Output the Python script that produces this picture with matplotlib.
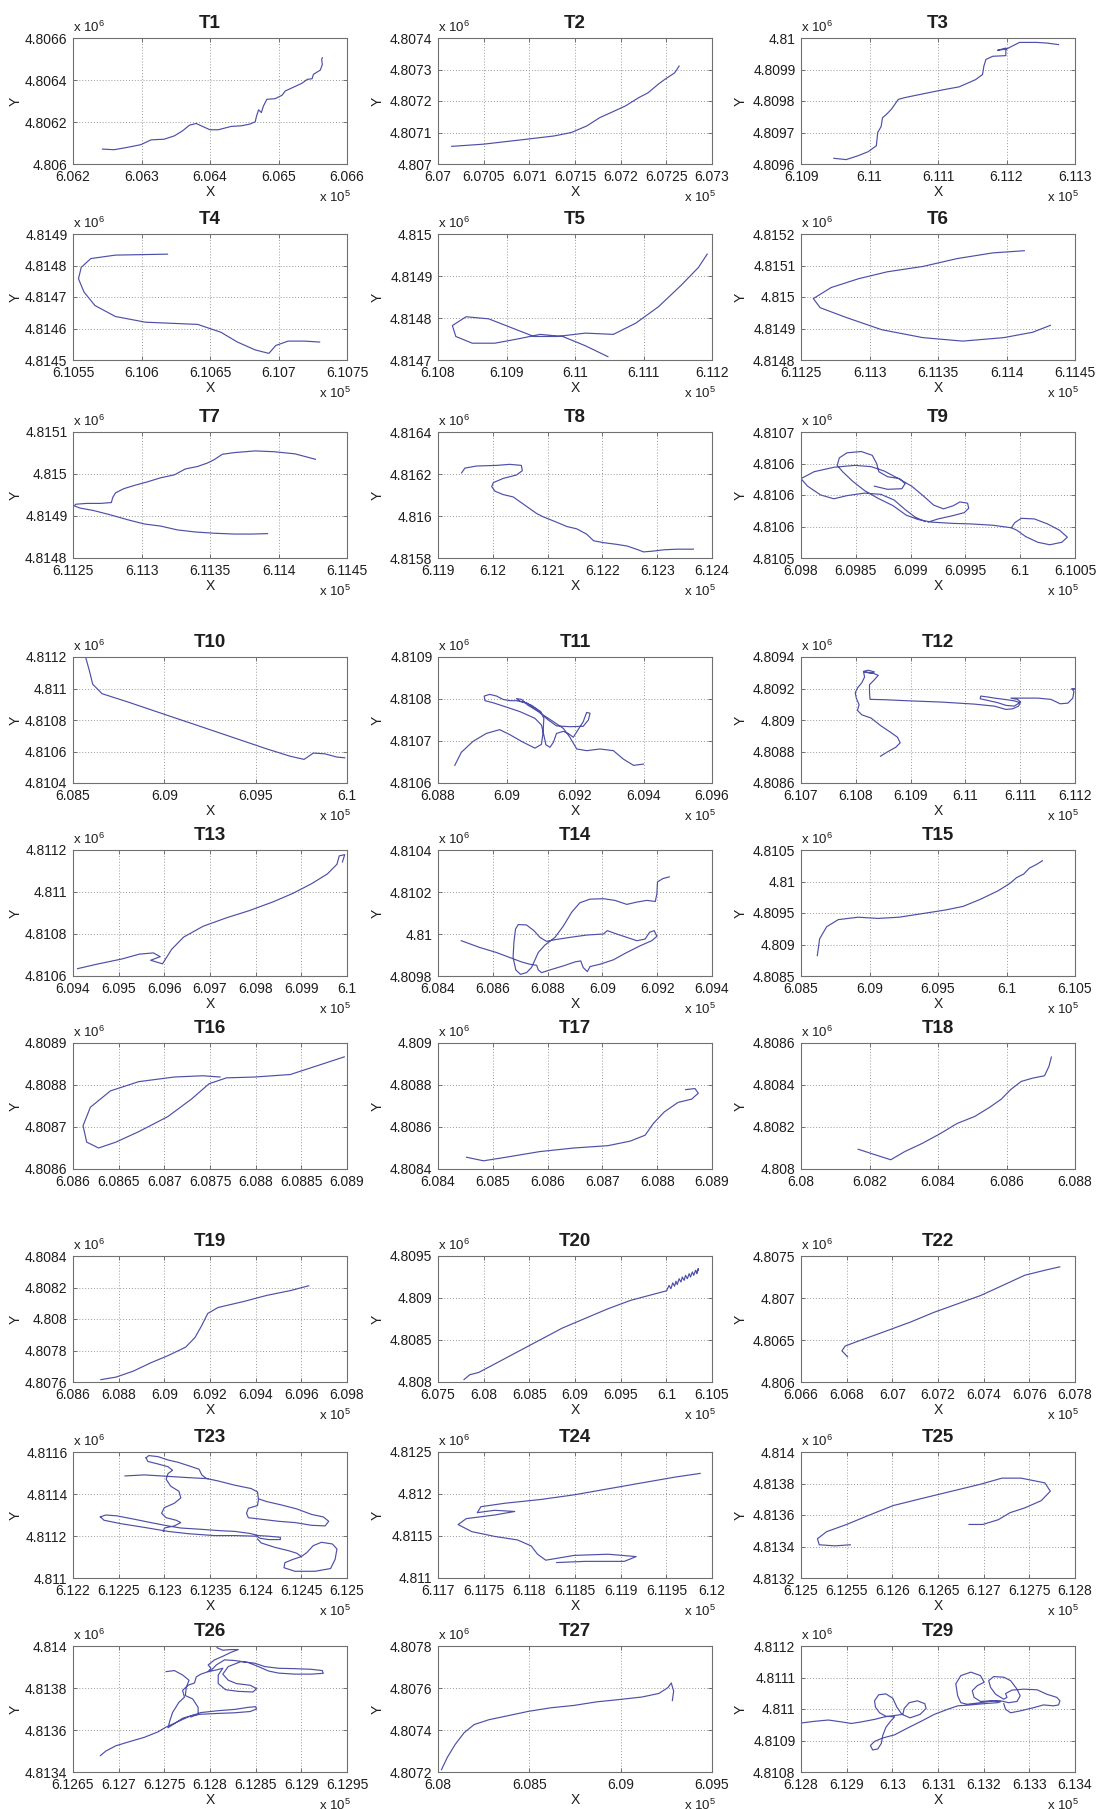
import numpy as np
import matplotlib.pyplot as plt
from matplotlib.patches import Rectangle

plt.rcParams['font.family'] = ['Liberation Sans', 'DejaVu Sans']
plt.rcParams['mathtext.default'] = 'regular'

# GPS tracks in UTM metres (easting, northing); (None, None) breaks a track
T1 = [(606243, 4806071), (606260, 4806068), (606279, 4806079), (606299, 4806092), (606314, 4806115),
      (606333, 4806118), (606348, 4806134), (606360, 4806158), (606370, 4806185), (606380, 4806193),
      (606387, 4806182), (606400, 4806163), (606412, 4806163), (606431, 4806179), (606446, 4806182),
      (606458, 4806190), (606466, 4806201), (606468, 4806229), (606471, 4806258), (606475, 4806245),
      (606478, 4806276), (606483, 4806308), (606495, 4806311), (606505, 4806327), (606510, 4806348),
      (606520, 4806363), (606534, 4806384), (606542, 4806403), (606549, 4806406), (606551, 4806427),
      (606561, 4806447), (606564, 4806474), (606563, 4806498), (606564, 4806506)]
T2 = [(607015, 4807056), (607050, 4807063), (607098, 4807079), (607127, 4807089), (607146, 4807100),
      (607163, 4807121), (607177, 4807147), (607193, 4807168), (607205, 4807184), (607220, 4807211),
      (607230, 4807226), (607241, 4807253), (607248, 4807268), (607259, 4807289), (607264, 4807311)]
T3 = [(610948, 4809618), (610966, 4809614), (610983, 4809626), (610998, 4809639), (611010, 4809658),
      (611011, 4809679), (611012, 4809700), (611017, 4809719), (611019, 4809747), (611025, 4809758),
      (611032, 4809774), (611042, 4809805), (611052, 4809811), (611081, 4809824), (611106, 4809835),
      (611131, 4809845), (611155, 4809868), (611165, 4809884), (611167, 4809911), (611170, 4809932),
      (611180, 4809942), (611199, 4809944), (611199, 4809968), (611187, 4809961), (611200, 4809965),
      (611219, 4809986), (611244, 4809986), (611259, 4809984), (611276, 4809979)]
T4 = [(610619, 4814836), (610581, 4814833), (610563, 4814822), (610556, 4814794), (610554, 4814758),
      (610558, 4814716), (610566, 4814673), (610581, 4814638), (610603, 4814620), (610641, 4814613),
      (610658, 4814588), (610670, 4814557), (610683, 4814532), (610693, 4814521), (610698, 4814546),
      (610707, 4814560), (610719, 4814560), (610730, 4814557)]
T5 = [(611048, 4814708), (611015, 4814734), (610982, 4814756), (610949, 4814761), (610916, 4814750),
      (610883, 4814740), (610850, 4814740), (610826, 4814756), (610821, 4814782), (610841, 4814803),
      (610874, 4814798), (610907, 4814777), (610940, 4814756), (610974, 4814756), (611015, 4814764),
      (611056, 4814761), (611089, 4814788), (611122, 4814827), (611155, 4814878), (611180, 4814920),
      (611193, 4814952)]
T6 = [(611413, 4815147), (611390, 4815140), (611364, 4815122), (611339, 4815097), (611313, 4815080),
      (611292, 4815058), (611272, 4815030), (611259, 4814995), (611264, 4814966), (611283, 4814935),
      (611309, 4814896), (611339, 4814871), (611368, 4814860), (611398, 4814871), (611419, 4814888),
      (611432, 4814910)]
T7 = [(611427, 4815035), (611412, 4815048), (611397, 4815053), (611383, 4815055), (611368, 4815051),
      (611359, 4815047), (611353, 4815034), (611348, 4815026), (611341, 4815018), (611332, 4815012),
      (611324, 4814998), (611314, 4814991), (611304, 4814981), (611295, 4814973), (611287, 4814965),
      (611281, 4814955), (611279, 4814944), (611278, 4814932), (611270, 4814930), (611260, 4814930),
      (611252, 4814928), (611251, 4814924), (611255, 4814919), (611265, 4814913), (611277, 4814903),
      (611290, 4814891), (611302, 4814881), (611314, 4814876), (611326, 4814867), (611339, 4814862),
      (611353, 4814859), (611368, 4814857), (611380, 4814857), (611392, 4814858)]
T8 = [(611943, 4816205), (611949, 4816228), (611970, 4816238), (612007, 4816241), (612031, 4816246),
      (612052, 4816241), (612054, 4816216), (612043, 4816195), (612019, 4816179), (612001, 4816159),
      (611998, 4816140), (612004, 4816118), (612019, 4816102), (612037, 4816091), (612049, 4816069),
      (612062, 4816045), (612080, 4816012), (612092, 4815996), (612116, 4815971), (612135, 4815950),
      (612153, 4815939), (612171, 4815914), (612184, 4815882), (612202, 4815873), (612226, 4815865),
      (612245, 4815857), (612263, 4815841), (612275, 4815829), (612293, 4815833), (612312, 4815839),
      (612336, 4815842), (612366, 4815842)]
T9 = [(609867, 4810614), (609879, 4810609), (609892, 4810610), (609895, 4810618), (609890, 4810626),
      (609879, 4810629), (609871, 4810637), (609869, 4810650), (609865, 4810663), (609855, 4810669),
      (609842, 4810667), (609835, 4810659), (609833, 4810647), (609838, 4810637), (609847, 4810622),
      (609858, 4810607), (609870, 4810595), (609884, 4810583), (609896, 4810568), (609907, 4810561),
      (609919, 4810557), (609938, 4810555), (609956, 4810554), (609975, 4810552), (609992, 4810548),
      (609995, 4810556), (610001, 4810563), (610013, 4810562), (610025, 4810554), (610036, 4810544),
      (610043, 4810533), (610038, 4810525), (610027, 4810521), (610016, 4810525), (610005, 4810534),
      (609997, 4810544), (609992, 4810548), (None, None),
      (609800, 4810626), (609812, 4810637), (609830, 4810644), (609849, 4810647), (609864, 4810645),
      (609876, 4810638), (609889, 4810626), (609901, 4810614), (609912, 4810598), (609921, 4810584),
      (609930, 4810578), (609939, 4810583), (609945, 4810589), (609952, 4810587), (609953, 4810579),
      (609949, 4810572), (609938, 4810567), (609925, 4810562), (609916, 4810557), (None, None),
      (609800, 4810626), (609806, 4810614), (609818, 4810600), (609830, 4810594), (609842, 4810599),
      (609858, 4810603), (609873, 4810601), (609885, 4810592), (609895, 4810577), (609904, 4810565),
      (609913, 4810558)]
T10 = [(608570, 4811195), (608589, 4811116), (608608, 4811027), (608659, 4810967), (608799, 4810915),
       (608990, 4810840), (609180, 4810766), (609371, 4810691), (609562, 4810616), (609689, 4810570),
       (609765, 4810550), (609816, 4810590), (609880, 4810585), (609943, 4810565), (609988, 4810560)]
T11 = [(608849, 4810642), (608868, 4810673), (608902, 4810699), (608941, 4810718), (608980, 4810727),
       (609010, 4810715), (609044, 4810699), (609083, 4810683), (609102, 4810692), (609107, 4810722),
       (609109, 4810754), (609100, 4810770), (609073, 4810785), (609039, 4810795), (609029, 4810801),
       (609044, 4810799), (609063, 4810785), (609093, 4810770), (609122, 4810750), (609146, 4810736),
       (609185, 4810734), (609224, 4810735), (609239, 4810750), (609244, 4810766), (609234, 4810768),
       (609224, 4810746), (609210, 4810728), (609195, 4810709), (609180, 4810718), (609166, 4810723),
       (609146, 4810718), (609137, 4810697), (609127, 4810685), (609115, 4810691), (609109, 4810714),
       (609102, 4810738), (609083, 4810754), (609039, 4810770), (608995, 4810782), (608961, 4810791),
       (608937, 4810796), (608935, 4810807), (608951, 4810811), (608971, 4810807), (608990, 4810799),
       (609010, 4810796), (609029, 4810796), (609059, 4810791), (609083, 4810778), (609107, 4810762),
       (609137, 4810746), (609166, 4810730), (609185, 4810709), (609205, 4810681), (609234, 4810677),
       (609273, 4810681), (609312, 4810677), (609341, 4810657), (609371, 4810642), (609400, 4810645)]
T12 = [(610845, 4808770), (610859, 4808800), (610873, 4808827), (610881, 4808855), (610876, 4808891),
       (610863, 4808923), (610845, 4808965), (610828, 4809012), (610811, 4809033), (610803, 4809061),
       (610806, 4809097), (610801, 4809139), (610799, 4809173), (610803, 4809203), (610811, 4809237),
       (610816, 4809273), (610814, 4809309), (610823, 4809316), (610834, 4809305), (610827, 4809296),
       (610816, 4809305), (610828, 4809301), (610841, 4809284), (610834, 4809256), (610825, 4809224),
       (610825, 4809178), (610826, 4809131), (610852, 4809129), (610895, 4809122), (610955, 4809114),
       (611016, 4809101), (611053, 4809088), (611074, 4809067), (611086, 4809071), (611097, 4809088),
       (611100, 4809110), (611089, 4809122), (611071, 4809131), (611053, 4809139), (611041, 4809146),
       (611028, 4809152), (611027, 4809135), (611041, 4809124), (611059, 4809110), (611074, 4809093),
       (611089, 4809088), (611101, 4809114), (611095, 4809131), (611083, 4809139), (611108, 4809139),
       (611132, 4809139), (611156, 4809131), (611173, 4809103), (611187, 4809107), (611196, 4809139),
       (611198, 4809182), (611194, 4809199), (611199, 4809199)]
T13 = [(609410, 4810635), (609456, 4810658), (609507, 4810681), (609545, 4810704), (609576, 4810710),
       (609591, 4810692), (609570, 4810675), (609596, 4810658), (609616, 4810727), (609642, 4810785),
       (609685, 4810837), (609736, 4810877), (609787, 4810912), (609838, 4810953), (609881, 4810993),
       (609922, 4811039), (609957, 4811086), (609978, 4811132), (609983, 4811172), (609995, 4811178),
       (609990, 4811143)]
T14 = [(608485, 4809968), (608552, 4809936), (608613, 4809912), (608662, 4809888), (608705, 4809867),
       (608735, 4809856), (608760, 4809851), (608766, 4809829), (608778, 4809816), (608809, 4809829),
       (608857, 4809848), (608900, 4809867), (608921, 4809872), (608930, 4809840), (608945, 4809821),
       (608955, 4809845), (608991, 4809856), (609040, 4809877), (609089, 4809912), (609138, 4809944),
       (609180, 4809968), (609199, 4809989), (609189, 4810016), (609172, 4810008), (609156, 4809976),
       (609126, 4809968), (609089, 4809984), (609052, 4810000), (609018, 4810016), (609004, 4810000),
       (608943, 4809995), (608882, 4809984), (608827, 4809973), (608796, 4809965), (608772, 4809984),
       (608750, 4810016), (608723, 4810043), (608693, 4810045), (608683, 4810024), (608677, 4809960),
       (608674, 4809888), (608684, 4809829), (608701, 4809808), (608723, 4809816), (608741, 4809840),
       (608754, 4809877), (608766, 4809912), (608790, 4809947), (608827, 4809984), (608857, 4810037),
       (608888, 4810104), (608918, 4810149), (608955, 4810166), (609004, 4810168), (609046, 4810160),
       (609089, 4810141), (609126, 4810152), (609162, 4810160), (609193, 4810155), (609199, 4810192),
       (609201, 4810248), (609221, 4810264), (609244, 4810272)]
T15 = [(608619, 4808824), (608636, 4809090), (608687, 4809281), (608772, 4809395), (608917, 4809433),
       (609062, 4809414), (609215, 4809433), (609385, 4809490), (609555, 4809548), (609683, 4809605),
       (609811, 4809719), (609938, 4809852), (610023, 4809967), (610074, 4810062), (610126, 4810119),
       (610168, 4810214), (610219, 4810271), (610262, 4810329)]
T16 = [(608761, 4808819), (608742, 4808822), (608711, 4808819), (608672, 4808808), (608641, 4808786),
       (608619, 4808747), (608611, 4808703), (608615, 4808664), (608628, 4808650), (608647, 4808664),
       (608672, 4808689), (608704, 4808725), (608730, 4808767), (608749, 4808803), (608768, 4808817),
       (608799, 4808819), (608838, 4808825), (608869, 4808847), (608897, 4808867)]
T17 = [(608452, 4808456), (608483, 4808439), (608524, 4808456), (608586, 4808483), (608648, 4808500),
       (608710, 4808511), (608751, 4808533), (608778, 4808561), (608793, 4808617), (608813, 4808672),
       (608838, 4808717), (608863, 4808733), (608875, 4808761), (608869, 4808783), (608852, 4808778)]
T18 = [(608167, 4808094), (608218, 4808067), (608262, 4808044), (608303, 4808083), (608354, 4808122),
       (608405, 4808167), (608456, 4808217), (608507, 4808250), (608551, 4808294), (608585, 4808333),
       (608612, 4808378), (608643, 4808417), (608677, 4808433), (608711, 4808444), (608724, 4808489),
       (608731, 4808533)]
T19 = [(608722, 4807615), (608788, 4807631), (608864, 4807669), (608941, 4807722), (609017, 4807768),
       (609093, 4807821), (609134, 4807882), (609164, 4807959), (609190, 4808035), (609235, 4808073),
       (609347, 4808111), (609449, 4808150), (609551, 4808180), (609632, 4808211)]
T20 = [(607785, 4808029), (607847, 4808086), (607946, 4808114), (608120, 4808214), (608367, 4808357),
       (608615, 4808500), (608863, 4808643), (609111, 4808757), (609359, 4808871), (609606, 4808971),
       (609854, 4809043), (610003, 4809086), (610030, 4809150), (610050, 4809110), (610070, 4809180),
       (610090, 4809140), (610105, 4809200), (610120, 4809160), (610140, 4809230), (610160, 4809190),
       (610175, 4809250), (610195, 4809210), (610210, 4809270), (610230, 4809230), (610250, 4809290),
       (610265, 4809250), (610285, 4809310), (610300, 4809270), (610320, 4809330), (610335, 4809290),
       (610350, 4809350), (610330, 4809300), (610345, 4809330)]
T22 = [(606804, 4806300), (606779, 4806371), (606794, 4806429), (606850, 4806486), (606952, 4806586),
       (607080, 4806714), (607182, 4806829), (607284, 4806929), (607386, 4807029), (607478, 4807143),
       (607580, 4807271), (607666, 4807329), (607733, 4807371)]
T23 = [(612280, 4811572), (612283, 4811583), (612293, 4811578), (612304, 4811562), (612315, 4811551),
       (612327, 4811534), (612338, 4811518), (612341, 4811491), (612346, 4811474), (612359, 4811462),
       (612377, 4811442), (612395, 4811426), (612402, 4811410), (612403, 4811377), (612412, 4811364),
       (612428, 4811348), (612445, 4811329), (612461, 4811303), (612474, 4811291), (612480, 4811270),
       (612476, 4811248), (612461, 4811251), (612443, 4811264), (612425, 4811270), (612406, 4811280),
       (612392, 4811287), (612390, 4811308), (612392, 4811332), (612402, 4811345), (612403, 4811372),
       (None, None),
       (612257, 4811486), (612278, 4811491), (612304, 4811484), (612326, 4811478), (612348, 4811473),
       (None, None),
       (612280, 4811572), (612282, 4811555), (612293, 4811543), (612304, 4811530), (612309, 4811513),
       (612304, 4811497), (612302, 4811470), (612307, 4811437), (612316, 4811413), (612318, 4811381),
       (612311, 4811356), (612300, 4811335), (612297, 4811308), (612302, 4811287), (612313, 4811275),
       (612318, 4811264), (612311, 4811248), (612300, 4811238), (612299, 4811222), (None, None),
       (612230, 4811291), (612236, 4811300), (612248, 4811296), (612267, 4811280), (612285, 4811264),
       (612304, 4811248), (612318, 4811238), (612340, 4811232), (612362, 4811225), (612377, 4811222),
       (612394, 4811212), (612403, 4811202), (612414, 4811199), (612427, 4811194), (612427, 4811183),
       (612414, 4811183), (612405, 4811189), (612401, 4811199), (612377, 4811202), (612355, 4811202),
       (612326, 4811211), (612304, 4811222), (612278, 4811241), (612252, 4811259), (612234, 4811275),
       (612230, 4811291), (None, None),
       (612402, 4811186), (612406, 4811167), (612421, 4811146), (612436, 4811130), (612445, 4811118),
       (612450, 4811102), (612441, 4811089), (612432, 4811073), (612431, 4811049), (612443, 4811032),
       (612465, 4811032), (612482, 4811045), (612487, 4811089), (612489, 4811138), (612484, 4811162),
       (612472, 4811170), (612463, 4811154), (612456, 4811121), (612450, 4811102)]
T24 = [(611987, 4812245), (611960, 4812202), (611923, 4812132), (611886, 4812061), (611849, 4811990),
       (611812, 4811934), (611774, 4811891), (611747, 4811849), (611743, 4811778), (611762, 4811806),
       (611784, 4811792), (611762, 4811750), (611731, 4811707), (611722, 4811636), (611737, 4811552),
       (611762, 4811495), (611787, 4811453), (611802, 4811382), (611809, 4811283), (611818, 4811212),
       (611849, 4811269), (611886, 4811283), (611917, 4811255), (611904, 4811198), (611861, 4811198),
       (611830, 4811184)]
T25 = [(612554, 4813411), (612537, 4813404), (612520, 4813411), (612518, 4813449), (612528, 4813494),
       (612550, 4813540), (612575, 4813600), (612601, 4813660), (612633, 4813706), (612665, 4813751),
       (612697, 4813796), (612720, 4813834), (612741, 4813834), (612767, 4813804), (612773, 4813751),
       (612763, 4813691), (612745, 4813645), (612729, 4813615), (612716, 4813570), (612699, 4813540),
       (612684, 4813540)]
T26 = [(612680, 4813478), (612686, 4813500), (612697, 4813525), (612713, 4813546), (612728, 4813565),
       (612743, 4813591), (612752, 4813614), (612765, 4813640), (612776, 4813662), (612790, 4813683),
       (612809, 4813692), (612827, 4813698), (612842, 4813708), (612850, 4813711), (612851, 4813700),
       (612844, 4813688), (612827, 4813682), (612809, 4813679), (612790, 4813675), (612781, 4813670),
       (612770, 4813656), (612761, 4813630), (612754, 4813611), (612756, 4813643), (612759, 4813683),
       (612766, 4813732), (612772, 4813756), (612770, 4813789), (612776, 4813813), (612783, 4813824),
       (612785, 4813853), (612790, 4813866), (612798, 4813878), (612801, 4813894), (612798, 4813910),
       (612805, 4813934), (612814, 4813951), (612823, 4813970), (612831, 4813983), (612823, 4813983),
       (612814, 4813980), (612808, 4813991), (612807, 4813999), (None, None),
       (612752, 4813878), (612761, 4813883), (612770, 4813862), (612777, 4813837), (612774, 4813802),
       (612773, 4813764), (612781, 4813748), (612787, 4813708), (612787, 4813675), (612779, 4813662),
       (None, None),
       (612798, 4813878), (612807, 4813886), (612814, 4813894), (612809, 4813862), (612809, 4813821),
       (612817, 4813792), (612831, 4813784), (612847, 4813781), (612851, 4813797), (612844, 4813813),
       (612829, 4813821), (612820, 4813837), (612814, 4813866), (612820, 4813902), (612834, 4813926),
       (612849, 4813918), (612860, 4813902), (612875, 4813894), (612893, 4813892), (612911, 4813889),
       (612923, 4813883), (612924, 4813870), (612911, 4813866), (612893, 4813866), (612875, 4813871),
       (612864, 4813881), (612853, 4813902), (612842, 4813921), (612827, 4813931), (612816, 4813934),
       (612807, 4813910), (612801, 4813883)]
T27 = [(608019, 4807211), (608050, 4807268), (608093, 4807330), (608143, 4807387), (608198, 4807426),
       (608279, 4807449), (608372, 4807466), (608496, 4807489), (608620, 4807506), (608744, 4807517),
       (608868, 4807534), (608992, 4807545), (609116, 4807557), (609209, 4807574), (609259, 4807602),
       (609277, 4807624), (609290, 4807585), (609283, 4807540)]
T29 = [(612803, 4810956), (612830, 4810961), (612860, 4810965), (612889, 4810959), (612910, 4810954),
       (612932, 4810959), (612961, 4810967), (612983, 4810975), (613008, 4810980), (613023, 4810983),
       (613026, 4811002), (613037, 4811020), (613055, 4811026), (613071, 4811017), (613074, 4811002),
       (613061, 4810983), (613039, 4810972), (613021, 4810983), (613010, 4811006), (613001, 4811034),
       (612986, 4811048), (612970, 4811045), (612961, 4811026), (612963, 4811006), (612972, 4810988),
       (612986, 4810977), (613005, 4810975), (612996, 4810961), (612986, 4810942), (612979, 4810916),
       (612976, 4810891), (612968, 4810873), (612957, 4810870), (612952, 4810884), (612961, 4810897),
       (612979, 4810908), (613005, 4810918), (613034, 4810940), (613063, 4810961), (613092, 4810983),
       (613121, 4810999), (613143, 4811010), (613172, 4811013), (613201, 4811017), (613230, 4811020),
       (613237, 4811023), (613222, 4811026), (613193, 4811020), (613164, 4811015), (613150, 4811020),
       (613143, 4811042), (613139, 4811080), (613150, 4811106), (613172, 4811117), (613193, 4811106),
       (613201, 4811085), (613186, 4811074), (613175, 4811058), (613179, 4811037), (613193, 4811024),
       (613215, 4811026), (613237, 4811026), (613255, 4811020), (613273, 4811024), (613280, 4811042),
       (613273, 4811063), (613259, 4811090), (613244, 4811101), (613222, 4811103), (613211, 4811090),
       (613215, 4811069), (613226, 4811047), (613244, 4811031), (613251, 4811037), (613248, 4811049),
       (613262, 4811060), (613288, 4811063), (613317, 4811061), (613338, 4811047), (613360, 4811037),
       (613367, 4811026), (613364, 4811013), (613353, 4811010), (613331, 4811013), (613309, 4811004),
       (613280, 4810994), (613259, 4810988), (613248, 4810999), (613244, 4811017)]

names = ["T1", "T2", "T3", "T4", "T5", "T6", "T7", "T8", "T9",
         "T10", "T11", "T12", "T13", "T14", "T15", "T16", "T17", "T18",
         "T19", "T20", "T22", "T23", "T24", "T25", "T26", "T27", "T29"]
tracks = dict(T1=T1, T2=T2, T3=T3, T4=T4, T5=T5, T6=T6, T7=T7, T8=T8, T9=T9,
              T10=T10, T11=T11, T12=T12, T13=T13, T14=T14, T15=T15, T16=T16, T17=T17, T18=T18,
              T19=T19, T20=T20, T22=T22, T23=T23, T24=T24, T25=T25, T26=T26, T27=T27, T29=T29)

# axis limits in metres
x_lims = dict(T1=(606200, 606600), T2=(607000, 607300), T3=(610900, 611300),
              T4=(610550, 610750), T5=(610800, 611200), T6=(611250, 611450),
              T7=(611250, 611450), T8=(611900, 612400), T9=(609800, 610050),
              T10=(608500, 610000), T11=(608800, 609600), T12=(610700, 611200),
              T13=(609400, 610000), T14=(608400, 609400), T15=(608500, 610500),
              T16=(608600, 608900), T17=(608400, 608900), T18=(608000, 608800),
              T19=(608600, 609800), T20=(607500, 610500), T22=(606600, 607800),
              T23=(612200, 612500), T24=(611700, 612000), T25=(612500, 612800),
              T26=(612650, 612950), T27=(608000, 609500), T29=(612800, 613400))
y_lims = dict(T1=(4806000, 4806600), T2=(4807000, 4807400), T3=(4809600, 4810000),
              T4=(4814500, 4814900), T5=(4814700, 4815000), T6=(4814800, 4815200),
              T7=(4814800, 4815100), T8=(4815800, 4816400), T9=(4810500, 4810700),
              T10=(4810400, 4811200), T11=(4810600, 4810900), T12=(4808600, 4809400),
              T13=(4810600, 4811200), T14=(4809800, 4810400), T15=(4808500, 4810500),
              T16=(4808600, 4808900), T17=(4808400, 4809000), T18=(4808000, 4808600),
              T19=(4807600, 4808400), T20=(4808000, 4809500), T22=(4806000, 4807500),
              T23=(4811000, 4811600), T24=(4811000, 4812500), T25=(4813200, 4814000),
              T26=(4813400, 4814000), T27=(4807200, 4807800), T29=(4810800, 4811200))

# tick labels (x in units of 1e5 m, y in units of 1e6 m)
x_labels = dict(
    T1=["6.062", "6.063", "6.064", "6.065", "6.066"],
    T2=["6.07", "6.0705", "6.071", "6.0715", "6.072", "6.0725", "6.073"],
    T3=["6.109", "6.11", "6.111", "6.112", "6.113"],
    T4=["6.1055", "6.106", "6.1065", "6.107", "6.1075"],
    T5=["6.108", "6.109", "6.11", "6.111", "6.112"],
    T6=["6.1125", "6.113", "6.1135", "6.114", "6.1145"],
    T7=["6.1125", "6.113", "6.1135", "6.114", "6.1145"],
    T8=["6.119", "6.12", "6.121", "6.122", "6.123", "6.124"],
    T9=["6.098", "6.0985", "6.099", "6.0995", "6.1", "6.1005"],
    T10=["6.085", "6.09", "6.095", "6.1"],
    T11=["6.088", "6.09", "6.092", "6.094", "6.096"],
    T12=["6.107", "6.108", "6.109", "6.11", "6.111", "6.112"],
    T13=["6.094", "6.095", "6.096", "6.097", "6.098", "6.099", "6.1"],
    T14=["6.084", "6.086", "6.088", "6.09", "6.092", "6.094"],
    T15=["6.085", "6.09", "6.095", "6.1", "6.105"],
    T16=["6.086", "6.0865", "6.087", "6.0875", "6.088", "6.0885", "6.089"],
    T17=["6.084", "6.085", "6.086", "6.087", "6.088", "6.089"],
    T18=["6.08", "6.082", "6.084", "6.086", "6.088"],
    T19=["6.086", "6.088", "6.09", "6.092", "6.094", "6.096", "6.098"],
    T20=["6.075", "6.08", "6.085", "6.09", "6.095", "6.1", "6.105"],
    T22=["6.066", "6.068", "6.07", "6.072", "6.074", "6.076", "6.078"],
    T23=["6.122", "6.1225", "6.123", "6.1235", "6.124", "6.1245", "6.125"],
    T24=["6.117", "6.1175", "6.118", "6.1185", "6.119", "6.1195", "6.12"],
    T25=["6.125", "6.1255", "6.126", "6.1265", "6.127", "6.1275", "6.128"],
    T26=["6.1265", "6.127", "6.1275", "6.128", "6.1285", "6.129", "6.1295"],
    T27=["6.08", "6.085", "6.09", "6.095"],
    T29=["6.128", "6.129", "6.13", "6.131", "6.132", "6.133", "6.134"])
y_labels = dict(
    T1=["4.806", "4.8062", "4.8064", "4.8066"],
    T2=["4.807", "4.8071", "4.8072", "4.8073", "4.8074"],
    T3=["4.8096", "4.8097", "4.8098", "4.8099", "4.81"],
    T4=["4.8145", "4.8146", "4.8147", "4.8148", "4.8149"],
    T5=["4.8147", "4.8148", "4.8149", "4.815"],
    T6=["4.8148", "4.8149", "4.815", "4.8151", "4.8152"],
    T7=["4.8148", "4.8149", "4.815", "4.8151"],
    T8=["4.8158", "4.816", "4.8162", "4.8164"],
    T9=["4.8105", "4.8106", "4.8106", "4.8106", "4.8107"],
    T10=["4.8104", "4.8106", "4.8108", "4.811", "4.8112"],
    T11=["4.8106", "4.8107", "4.8108", "4.8109"],
    T12=["4.8086", "4.8088", "4.809", "4.8092", "4.8094"],
    T13=["4.8106", "4.8108", "4.811", "4.8112"],
    T14=["4.8098", "4.81", "4.8102", "4.8104"],
    T15=["4.8085", "4.809", "4.8095", "4.81", "4.8105"],
    T16=["4.8086", "4.8087", "4.8088", "4.8089"],
    T17=["4.8084", "4.8086", "4.8088", "4.809"],
    T18=["4.808", "4.8082", "4.8084", "4.8086"],
    T19=["4.8076", "4.8078", "4.808", "4.8082", "4.8084"],
    T20=["4.808", "4.8085", "4.809", "4.8095"],
    T22=["4.806", "4.8065", "4.807", "4.8075"],
    T23=["4.811", "4.8112", "4.8114", "4.8116"],
    T24=["4.811", "4.8115", "4.812", "4.8125"],
    T25=["4.8132", "4.8134", "4.8136", "4.8138", "4.814"],
    T26=["4.8134", "4.8136", "4.8138", "4.814"],
    T27=["4.8072", "4.8074", "4.8076", "4.8078"],
    T29=["4.8108", "4.8109", "4.811", "4.8111", "4.8112"])

# page layout in pixels
W, H = 1096, 1809
col_left = [73, 438, 801]
row_top = [38, 234, 432, 657, 850, 1043, 1256, 1452, 1646]
ax_w, ax_h = 274, 126
ylabel_off = [57, 60, 60]

line_color = '#4d4fa8'
frame_color = '#707070'
text_color = '#1e1e1e'

fig = plt.figure(figsize=(W / 100, H / 100), dpi=100)
fig.patch.set_facecolor('white')

for i, name in enumerate(names):
    r, c = divmod(i, 3)
    left, top = col_left[c], row_top[r]
    ax = fig.add_axes([left / W, 1 - (top + ax_h) / H, ax_w / W, ax_h / H])

    pts = np.array(tracks[name], dtype=float)
    ax.plot(pts[:, 0], pts[:, 1], color=line_color, lw=0.85)

    ax.set_xlim(*x_lims[name])
    ax.set_ylim(*y_lims[name])
    ax.set_xticks(np.linspace(*x_lims[name], len(x_labels[name])), x_labels[name])
    ax.set_yticks(np.linspace(*y_lims[name], len(y_labels[name])), y_labels[name])

    ax.set_axisbelow(True)
    ax.grid(True, ls=(0, (1, 2)), color='#9a9a9a', lw=0.7)
    ax.tick_params(direction='in', length=3, width=0.7, top=True, right=True,
                   color=frame_color, labelcolor=text_color, labelsize=10, pad=4)
    for sp in ax.spines.values():
        sp.set_color(frame_color)
        sp.set_linewidth(0.8)

    ax.set_title(name, fontsize=13.5, fontweight='bold', color=text_color, pad=7)
    ax.text(0, 1 + 3 / ax_h, 'x 10$^6$', transform=ax.transAxes, ha='left', va='bottom',
            fontsize=9.5, color=text_color)
    ax.text(1 + 4 / ax_w, -33 / ax_h, 'x 10$^5$', transform=ax.transAxes, ha='right', va='center',
            fontsize=9.5, color=text_color)
    ax.text(0.5, -28 / ax_h, 'X', transform=ax.transAxes, ha='center', va='center',
            fontsize=10, color=text_color)
    ax.text(-ylabel_off[c] / ax_w, 0.5, 'Y', transform=ax.transAxes, ha='center', va='center',
            rotation=90, fontsize=10, color=text_color)

# blank strips between the three page blocks
for y0, y1 in [(597, 626), (1191, 1226)]:
    fig.add_artist(Rectangle((0, 1 - y1 / H), 1, (y1 - y0) / H, transform=fig.transFigure,
                             facecolor='white', edgecolor='none', zorder=10))

fig.savefig('out.png', dpi=100, facecolor='white')
